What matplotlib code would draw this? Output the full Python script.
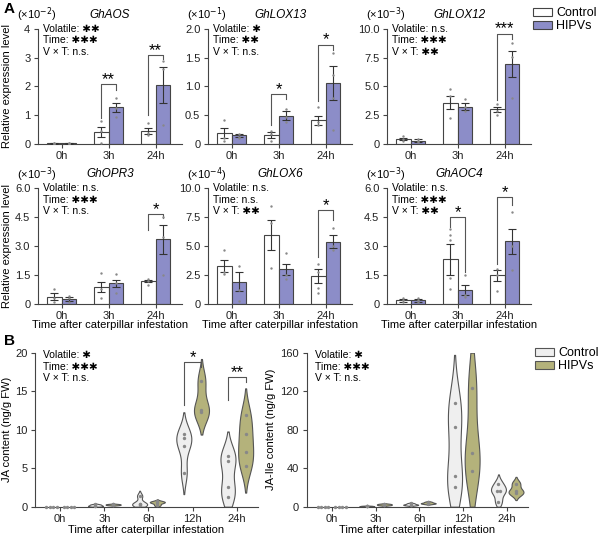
import numpy as np
import matplotlib
matplotlib.use('Agg')
import matplotlib.pyplot as plt
from matplotlib.patches import Patch

plt.rcParams['font.family'] = ['Liberation Sans', 'DejaVu Sans']
plt.rcParams['font.size'] = 8
plt.rcParams['axes.linewidth'] = 0.8
plt.rcParams['axes.edgecolor'] = '#444444'
plt.rcParams['xtick.color'] = '#444444'
plt.rcParams['ytick.color'] = '#444444'
plt.rcParams['xtick.labelcolor'] = '#222222'
plt.rcParams['ytick.labelcolor'] = '#222222'
plt.rcParams['xtick.major.size'] = 3
plt.rcParams['ytick.major.size'] = 3
plt.rcParams['xtick.major.width'] = 0.8
plt.rcParams['ytick.major.width'] = 0.8
plt.rcParams['xtick.major.pad'] = 2
plt.rcParams['ytick.major.pad'] = 2.5

CTRL_BAR = 'white'
HIPV_BAR = '#8c8dc8'
CTRL_VIO = '#efefef'
HIPV_VIO = '#b4b27b'
EDGE = '#444444'
DOT = '#888888'

times_a = ['0h', '3h', '24h']
times_b = ['0h', '3h', '6h', '12h', '24h']

# ---- panel A : qRT-PCR bars (mean, sem, single replicates) ----
aos_ctrl = [0.02, 0.43, 0.45]
aos_ctrl_err = [0.01, 0.17, 0.11]
aos_hipv = [0.02, 1.27, 2.05]
aos_hipv_err = [0.01, 0.15, 0.62]
aos_ctrl_pts = [[0.03, 0.02, 0.01], [0.8, 0.45, 0.05], [0.74, 0.37, 0.3]]
aos_hipv_pts = [[0.03, 0.02, 0.01], [1.6, 1.24, 0.93], [2.9, 2.6, 0.65]]

lox13_ctrl = [0.19, 0.15, 0.41]
lox13_ctrl_err = [0.09, 0.05, 0.08]
lox13_hipv = [0.15, 0.49, 1.06]
lox13_hipv_err = [0.03, 0.08, 0.29]
lox13_ctrl_pts = [[0.41, 0.1, 0.05], [0.23, 0.17, 0.06], [0.64, 0.38, 0.33]]
lox13_hipv_pts = [[0.18, 0.13, 0.1], [0.6, 0.47, 0.38], [1.58, 1.2, 0.8, 0.25]]

lox12_ctrl = [0.45, 3.6, 3.0]
lox12_ctrl_err = [0.1, 0.6, 0.25]
lox12_hipv = [0.3, 3.25, 6.95]
lox12_hipv_err = [0.1, 0.3, 1.1]
lox12_ctrl_pts = [[0.7, 0.4, 0.3], [4.8, 4.2, 2.3], [3.5, 2.9, 2.5]]
lox12_hipv_pts = [[0.45, 0.3, 0.2], [3.9, 3.2, 2.9], [8.8, 7.6, 4.0]]

opr3_ctrl = [0.4, 0.9, 1.22]
opr3_ctrl_err = [0.18, 0.27, 0.06]
opr3_hipv = [0.28, 1.08, 3.37]
opr3_hipv_err = [0.12, 0.2, 0.75]
opr3_ctrl_pts = [[0.8, 0.35, 0.1], [1.6, 0.8, 0.3], [1.3, 1.2, 1.0]]
opr3_hipv_pts = [[0.45, 0.3, 0.1], [1.55, 1.1, 0.6], [4.5, 3.5, 1.5]]

lox6_ctrl = [3.3, 5.95, 2.45]
lox6_ctrl_err = [0.5, 1.3, 0.6]
lox6_hipv = [1.95, 3.0, 5.4]
lox6_hipv_err = [0.8, 0.5, 0.55]
lox6_ctrl_pts = [[4.7, 2.8, 2.6], [8.5, 7.0, 3.1], [3.5, 2.8, 1.4, 1.0]]
lox6_hipv_pts = [[3.3, 1.2, 0.3], [4.4, 2.5, 2.2], [6.6, 5.0, 4.7]]

aoc4_ctrl = [0.2, 2.32, 1.49]
aoc4_ctrl_err = [0.08, 0.78, 0.3]
aoc4_hipv = [0.2, 0.75, 3.26]
aoc4_hipv_err = [0.06, 0.27, 0.65]
aoc4_ctrl_pts = [[0.35, 0.2, 0.1], [3.9, 3.6, 3.3, 1.35, 0.8], [1.8, 1.5, 0.7]]
aoc4_hipv_pts = [[0.3, 0.2, 0.1], [1.5, 0.5, 0.4], [4.8, 3.0, 1.75]]

gene_names = ['GhAOS', 'GhLOX13', 'GhLOX12', 'GhOPR3', 'GhLOX6', 'GhAOC4']
gene_scales = ['(×10$^{-2}$)', '(×10$^{-1}$)', '(×10$^{-3}$)',
               '(×10$^{-3}$)', '(×10$^{-4}$)', '(×10$^{-3}$)']
gene_ymax = [4, 2.0, 10, 6, 10, 6]
gene_ticks = [[0, 1, 2, 3, 4], [0, 0.5, 1.0, 1.5, 2.0], [0, 2.5, 5.0, 7.5, 10.0],
              [0, 1.5, 3.0, 4.5, 6.0], [0, 2.5, 5.0, 7.5, 10.0], [0, 1.5, 3.0, 4.5, 6.0]]
gene_ticklabels = [['0', '1', '2', '3', '4'], ['0', '0.5', '1.0', '1.5', '2.0'],
                   ['0', '2.5', '5.0', '7.5', '10.0'], ['0', '1.5', '3.0', '4.5', '6.0'],
                   ['0', '2.5', '5.0', '7.5', '10.0'], ['0', '1.5', '3.0', '4.5', '6.0']]
gene_stats = [['Volatile: ✱✱', 'Time: ✱✱✱', 'V × T: n.s.'],
              ['Volatile: ✱', 'Time: ✱✱', 'V × T: n.s.'],
              ['Volatile: n.s.', 'Time: ✱✱✱', 'V × T: ✱✱'],
              ['Volatile: n.s.', 'Time: ✱✱✱', 'V × T: n.s.'],
              ['Volatile: n.s.', 'Time: n.s.', 'V × T: ✱✱'],
              ['Volatile: n.s.', 'Time: ✱✱✱', 'V × T: ✱✱']]
# (time index, bracket top, left leg end, right leg end, label)
gene_sig = [[(1, 2.08, 0.9, 1.88, '**'), (2, 3.1, 1.0, 2.95, '**')],
            [(1, 0.87, 0.33, 0.78, '*'), (2, 1.73, 0.74, 1.64, '*')],
            [(2, 9.6, 3.84, 9.1, '***')],
            [(2, 4.65, 3.85, 4.45, '*')],
            [(2, 8.13, 4.1, 7.27, '*')],
            [(1, 4.52, 4.0, 1.66, '*'), (2, 5.56, 2.1, 5.13, '*')]]

ctrl_means = [aos_ctrl, lox13_ctrl, lox12_ctrl, opr3_ctrl, lox6_ctrl, aoc4_ctrl]
ctrl_errs = [aos_ctrl_err, lox13_ctrl_err, lox12_ctrl_err, opr3_ctrl_err, lox6_ctrl_err, aoc4_ctrl_err]
hipv_means = [aos_hipv, lox13_hipv, lox12_hipv, opr3_hipv, lox6_hipv, aoc4_hipv]
hipv_errs = [aos_hipv_err, lox13_hipv_err, lox12_hipv_err, opr3_hipv_err, lox6_hipv_err, aoc4_hipv_err]
ctrl_pts = [aos_ctrl_pts, lox13_ctrl_pts, lox12_ctrl_pts, opr3_ctrl_pts, lox6_ctrl_pts, aoc4_ctrl_pts]
hipv_pts = [aos_hipv_pts, lox13_hipv_pts, lox12_hipv_pts, opr3_hipv_pts, lox6_hipv_pts, aoc4_hipv_pts]

# ---- panel B : hormone contents, single replicates ----
ja_ctrl = [[0, 0, 0, 0], [0.3, 0.2, 0.1, 0.05], [0.4, 0.3, 0.2, 1.4],
           [9.5, 8.9, 7.9, 4.4], [6.6, 6.0, 2.6, 1.2]]
ja_hipv = [[0, 0, 0, 0], [0.35, 0.3, 0.25, 0.2], [0.7, 0.6, 0.5, 0.2],
           [16.3, 12.6, 12.25], [11.9, 9.4, 7.1, 5.3]]
jaile_ctrl = [[0, 0, 0, 0], [1.0, 0.8, 0.6, 0.5], [3.5, 2.5, 2.0, 1.5],
              [107.6, 82.8, 31.7, 20.7], [24.1, 16.6, 16.6, 5.2]]
jaile_hipv = [[0, 0, 0, 0], [3.0, 2.5, 2.0, 1.5], [5.0, 4.0, 3.5, 3.0],
              [123.4, 55.9, 37.2], [24.1, 16.2, 13.8]]
ja_sig = [(3, 18.8, 13.2, 18.2, '*'), (4, 16.8, 13.9, 16.2, '**')]
ja_stats = ['Volatile: ✱', 'Time: ✱✱✱', 'V × T: n.s.']
jaile_stats = ['Volatile: ✱', 'Time: ✱✱✱', 'V × T: n.s.']


def spread(vals, step):
    # horizontal offsets so that replicates with the same value sit side by side
    vals = np.round(np.asarray(vals, float), 6)
    offs = np.zeros(len(vals))
    for v in np.unique(vals):
        idx = np.where(vals == v)[0]
        offs[idx] = (np.arange(len(idx)) - (len(idx) - 1) / 2) * step
    return offs


def style_axes(ax):
    for s in ['top', 'right']:
        ax.spines[s].set_visible(False)


def bracket(ax, x0, x1, sig, fs=12):
    _, top, yl, yr, lab = sig
    ax.plot([x0, x0, x1, x1], [yl, top, top, yr], color='#555555', lw=0.8, clip_on=False)
    ax.text((x0 + x1) / 2, top, lab, ha='center', va='baseline', fontsize=fs, clip_on=False)


def violin(ax, x, pts, fc, ytop, half_w=0.17, cut=2.0, bw_scale=0.8):
    pts = np.asarray(pts, float)
    if pts.std() > 0:
        bw = pts.std(ddof=1) * len(pts) ** (-0.2) * bw_scale
        grid = np.linspace(max(pts.min() - cut * bw, 0), min(pts.max() + cut * bw, ytop), 200)
        dens = np.exp(-0.5 * ((grid[:, None] - pts[None, :]) / bw) ** 2).sum(axis=1)
        w = dens / dens.max() * half_w
        ax.fill_betweenx(grid, x - w, x + w, facecolor=fc, edgecolor='#555555', lw=0.8, zorder=2)
    ax.scatter(x + spread(pts, 0.08), pts, s=6, color=DOT, zorder=3, linewidths=0, clip_on=False)


fig = plt.figure(figsize=(6, 5.37), dpi=100)

row_bottoms = [1 - 144 / 537, 1 - 304.3 / 537]
row_heights = [115 / 537, 116 / 537]
col_lefts = [38 / 600, 208 / 600, 387 / 600]
bw_ = 0.31
xs = np.arange(len(times_a))

for i in range(6):
    r, c = divmod(i, 3)
    ax = fig.add_axes([col_lefts[c], row_bottoms[r], 144 / 600, row_heights[r]])
    style_axes(ax)
    ax.bar(xs - bw_ / 2, ctrl_means[i], bw_, color=CTRL_BAR, edgecolor=EDGE, lw=0.8, zorder=1)
    ax.bar(xs + bw_ / 2, hipv_means[i], bw_, color=HIPV_BAR, edgecolor=EDGE, lw=0.8, zorder=1)
    ax.errorbar(xs - bw_ / 2, ctrl_means[i], yerr=ctrl_errs[i], fmt='none', ecolor='#333333',
                elinewidth=0.8, capsize=3, capthick=0.8, zorder=3)
    ax.errorbar(xs + bw_ / 2, hipv_means[i], yerr=hipv_errs[i], fmt='none', ecolor='#333333',
                elinewidth=0.8, capsize=3, capthick=0.8, zorder=3)
    for k in range(len(times_a)):
        p = ctrl_pts[i][k]
        ax.scatter(k - bw_ / 2 + spread(p, 0.05), p, s=3, color=DOT, zorder=4, linewidths=0)
        p = hipv_pts[i][k]
        ax.scatter(k + bw_ / 2 + spread(p, 0.05), p, s=3, color=DOT, zorder=4, linewidths=0)
    for sig in gene_sig[i]:
        bracket(ax, sig[0] - bw_ / 2, sig[0] + bw_ / 2, sig)
    ax.set_xlim(-0.5, 2.56)
    ax.set_ylim(0, gene_ymax[i])
    ax.set_yticks(gene_ticks[i])
    ax.set_yticklabels(gene_ticklabels[i])
    ax.set_xticks(xs)
    ax.set_xticklabels(times_a)
    ax.text(-0.146, 1.12, gene_scales[i], transform=ax.transAxes, ha='left', va='center', fontsize=8)
    ax.text(0.5, 1.12, gene_names[i], transform=ax.transAxes, ha='center', va='center',
            style='italic', fontsize=8.5)
    for j, line in enumerate(gene_stats[i]):
        ax.text(0.035, 1.0 - 0.1 * j, line, transform=ax.transAxes, ha='left', va='center', fontsize=7.5)
    if c == 0:
        ax.set_ylabel('Relative expression level', fontsize=8)
        ax.yaxis.set_label_coords(-0.18, 0.5)
    if r == 1:
        ax.set_xlabel('Time after caterpillar infestation', fontsize=8, labelpad=-1)

fig.legend(handles=[Patch(fc=CTRL_BAR, ec=EDGE, lw=0.8), Patch(fc=HIPV_BAR, ec=EDGE, lw=0.8)],
           labels=['Control', 'HIPVs'], loc='upper left', bbox_to_anchor=(533 / 600, 1 - 7 / 537),
           frameon=False, fontsize=9, handlelength=1.5, handleheight=0.6, borderpad=0,
           labelspacing=0.1, handletextpad=0.35, borderaxespad=0)

xb = np.arange(len(times_b))
off = 0.2
panels_b = [
    ([35 / 600, 0.0564, 223 / 600, 0.2868], ja_ctrl, ja_hipv, 20, [0, 5, 10, 15, 20],
     'JA content (ng/g FW)', ja_stats, ja_sig, -0.105),
    ([306.7 / 600, 0.0564, 221.6 / 600, 0.2868], jaile_ctrl, jaile_hipv, 160, [0, 40, 80, 120, 160],
     'JA-Ile content (ng/g FW)', jaile_stats, [], -0.139),
]
for rect, cp, hp, ymax, yt, ylab, stats, sigs, lx in panels_b:
    ax = fig.add_axes(rect)
    style_axes(ax)
    for k in range(len(times_b)):
        violin(ax, k - off, cp[k], CTRL_VIO, ymax)
        violin(ax, k + off, hp[k], HIPV_VIO, ymax)
    for sig in sigs:
        bracket(ax, sig[0] - off, sig[0] + off, sig)
    ax.set_xlim(-0.57, 4.48)
    ax.set_ylim(0, ymax)
    ax.set_yticks(yt)
    ax.set_xticks(xb)
    ax.set_xticklabels(times_b)
    ax.set_ylabel(ylab, fontsize=8)
    ax.yaxis.set_label_coords(lx, 0.5)
    ax.set_xlabel('Time after caterpillar infestation', fontsize=8, labelpad=1)
    for j, line in enumerate(stats):
        ax.text(0.036, 0.985 - 0.075 * j, line, transform=ax.transAxes, ha='left', va='center', fontsize=7.5)

fig.legend(handles=[Patch(fc=CTRL_VIO, ec='#555555', lw=0.8), Patch(fc=HIPV_VIO, ec='#555555', lw=0.8)],
           labels=['Control', 'HIPVs'], loc='upper left', bbox_to_anchor=(535 / 600, 1 - 347 / 537),
           frameon=False, fontsize=9, handlelength=1.5, handleheight=0.6, borderpad=0,
           labelspacing=0.1, handletextpad=0.35, borderaxespad=0)

fig.text(4 / 600, 1 - 2 / 537, 'A', fontsize=11, fontweight='bold', ha='left', va='top')
fig.text(4 / 600, 1 - 334 / 537, 'B', fontsize=11, fontweight='bold', ha='left', va='top')

fig.savefig('out.png', dpi=100)
